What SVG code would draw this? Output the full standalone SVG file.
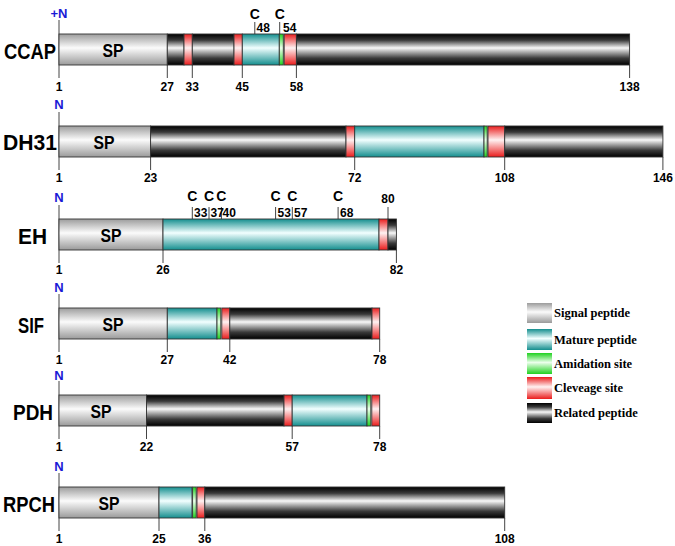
<svg xmlns="http://www.w3.org/2000/svg" width="675" height="546" viewBox="0 0 675 546">
<defs>
<linearGradient id="gSP" x1="0" y1="0" x2="0" y2="1"><stop offset="0" stop-color="#9c9c9c"/><stop offset="0.45" stop-color="#fbfbfb"/><stop offset="1" stop-color="#9a9a9a"/></linearGradient>
<linearGradient id="gDk" x1="0" y1="0" x2="0" y2="1"><stop offset="0" stop-color="#000"/><stop offset="0.2" stop-color="#3a3a3a"/><stop offset="0.45" stop-color="#f8f8f8"/><stop offset="0.78" stop-color="#3a3a3a"/><stop offset="1" stop-color="#000"/></linearGradient>
<linearGradient id="gCy" x1="0" y1="0" x2="0" y2="1"><stop offset="0" stop-color="#138e8e"/><stop offset="0.45" stop-color="#f2ffff"/><stop offset="1" stop-color="#138e8e"/></linearGradient>
<linearGradient id="gGr" x1="0" y1="0" x2="0" y2="1"><stop offset="0" stop-color="#1fd11f"/><stop offset="0.45" stop-color="#ecffec"/><stop offset="1" stop-color="#1fd11f"/></linearGradient>
<linearGradient id="gRd" x1="0" y1="0" x2="0" y2="1"><stop offset="0" stop-color="#ea1c1c"/><stop offset="0.45" stop-color="#fff2f2"/><stop offset="1" stop-color="#ea1c1c"/></linearGradient>
</defs>
<style>
.sp{fill:url(#gSP)} .dk{fill:url(#gDk)} .cy{fill:url(#gCy)} .gr{fill:url(#gGr)} .rd{fill:url(#gRd)}
.seg{stroke:#333;stroke-width:0.9}
.ln{stroke:#444;stroke-width:1;fill:none}
.name{font-family:"Liberation Sans",Arial,sans-serif;font-weight:bold;font-size:22px;fill:#000}
.spt{font-family:"Liberation Sans",Arial,sans-serif;font-weight:bold;font-size:18px;fill:#000;text-anchor:middle}
.num{font-family:"Liberation Sans",Arial,sans-serif;font-weight:bold;font-size:12px;fill:#000;text-anchor:middle}
.numl{font-family:"Liberation Sans",Arial,sans-serif;font-weight:bold;font-size:12px;fill:#000}
.c{font-family:"Liberation Sans",Arial,sans-serif;font-weight:bold;font-size:14px;fill:#000;text-anchor:middle}
.n{font-family:"Liberation Sans",Arial,sans-serif;font-weight:bold;font-size:13px;fill:#1a1ad6;text-anchor:middle}
.leg{font-family:"Liberation Serif","Times New Roman",serif;font-weight:bold;font-size:12.5px;fill:#000}
</style>
<rect width="675" height="546" fill="#fff"/>

<g id="connectors">
<path class="ln" d="M59 20V78 M167.3 65V78 M192.3 65V78 M242.3 65V78 M296.4 65V78 M629.6 65V78 M254.8 22V34 M279.7 22V34"/>
<path class="ln" d="M59 112V170 M150.6 157V170 M354.7 157V170 M504.7 157V170 M662.9 157V170"/>
<path class="ln" d="M59 205V263 M163 250V263 M396.4 250V263 M388 207V219 M192.3 207V219 M209 207V219 M221.4 207V219 M275.6 207V219 M292.3 207V219 M338.1 207V219"/>
<path class="ln" d="M59 294V352 M167.3 339V352 M229.8 339V352 M379.7 339V352"/>
<path class="ln" d="M59 381V439 M146.5 426V439 M292.2 426V439 M379.7 426V439"/>
<path class="ln" d="M59 473V531 M159 518V531 M204.8 518V531 M504.7 518V531"/>
</g>

<g id="CCAP">
<text class="name" x="4" y="59" textLength="52" lengthAdjust="spacingAndGlyphs">CCAP</text>
<text class="n" x="59" y="18">+N</text>
<rect class="sp seg" x="59" y="34" width="108.3" height="31"/>
<rect class="dk seg" x="167.3" y="34" width="16.7" height="31"/>
<rect class="rd seg" x="184" y="34" width="8.3" height="31"/>
<rect class="dk seg" x="192.3" y="34" width="41.7" height="31"/>
<rect class="rd seg" x="234" y="34" width="8.3" height="31"/>
<rect class="cy seg" x="242.3" y="34" width="37" height="31"/>
<rect class="gr seg" x="279.3" y="34" width="4" height="31"/>
<rect class="rd seg" x="284.2" y="34" width="12.2" height="31"/>
<rect class="dk seg" x="296.4" y="34" width="333.2" height="31"/>
<text class="spt" x="113" y="57" textLength="21" lengthAdjust="spacingAndGlyphs">SP</text>
<text class="c" x="254.8" y="19">C</text><text class="numl" x="256.5" y="32">48</text>
<text class="c" x="279.7" y="19">C</text><text class="numl" x="283" y="32">54</text>
<text class="num" x="59" y="90.5">1</text><text class="num" x="167.3" y="90.5">27</text><text class="num" x="192.3" y="90.5">33</text><text class="num" x="242.3" y="90.5">45</text><text class="num" x="296.4" y="90.5">58</text><text class="num" x="629.6" y="90.5">138</text>
</g>

<g id="DH31">
<text class="name" x="3" y="150" textLength="54" lengthAdjust="spacingAndGlyphs">DH31</text>
<text class="n" x="59" y="109">N</text>
<rect class="sp seg" x="59" y="126" width="91.6" height="31"/>
<rect class="dk seg" x="150.6" y="126" width="195.4" height="31"/>
<rect class="rd seg" x="346" y="126" width="8.7" height="31"/>
<rect class="cy seg" x="354.7" y="126" width="129.3" height="31"/>
<rect class="gr seg" x="484" y="126" width="3.2" height="31"/>
<rect class="rd seg" x="488" y="126" width="16.7" height="31"/>
<rect class="dk seg" x="504.7" y="126" width="158.2" height="31"/>
<text class="spt" x="104" y="149" textLength="21" lengthAdjust="spacingAndGlyphs">SP</text>
<text class="num" x="59" y="181.5">1</text><text class="num" x="150.6" y="181.5">23</text><text class="num" x="354.7" y="181.5">72</text><text class="num" x="504.7" y="181.5">108</text><text class="num" x="662.9" y="181.5">146</text>
</g>

<g id="EH">
<text class="name" x="18" y="244" textLength="29" lengthAdjust="spacingAndGlyphs">EH</text>
<text class="n" x="59" y="202">N</text>
<rect class="sp seg" x="59" y="219" width="104" height="31"/>
<rect class="cy seg" x="163" y="219" width="216" height="31"/>
<rect class="rd seg" x="379" y="219" width="9" height="31"/>
<rect class="dk seg" x="388" y="219" width="8.4" height="31"/>
<text class="spt" x="111" y="242" textLength="21" lengthAdjust="spacingAndGlyphs">SP</text>
<text class="c" x="192.3" y="201">C</text><text class="numl" x="194" y="217">33</text>
<text class="c" x="209" y="201">C</text><text class="numl" x="210.5" y="217">37</text>
<text class="c" x="221.4" y="201">C</text><text class="numl" x="222.5" y="217">40</text>
<text class="c" x="275.6" y="201">C</text><text class="numl" x="277.5" y="217">53</text>
<text class="c" x="292.3" y="201">C</text><text class="numl" x="294" y="217">57</text>
<text class="c" x="338.1" y="201">C</text><text class="numl" x="340" y="217">68</text>
<text class="num" x="388" y="203">80</text>
<text class="num" x="59" y="274">1</text><text class="num" x="163" y="274">26</text><text class="num" x="396.4" y="274">82</text>
</g>

<g id="SIF">
<text class="name" x="18" y="333" textLength="26" lengthAdjust="spacingAndGlyphs">SIF</text>
<text class="n" x="59" y="292">N</text>
<rect class="sp seg" x="59" y="308" width="108.3" height="31"/>
<rect class="cy seg" x="167.3" y="308" width="49.7" height="31"/>
<rect class="gr seg" x="217" y="308" width="3.8" height="31"/>
<rect class="rd seg" x="221.8" y="308" width="8" height="31"/>
<rect class="dk seg" x="229.8" y="308" width="142.2" height="31"/>
<rect class="rd seg" x="372" y="308" width="7.7" height="31"/>
<text class="spt" x="113" y="331" textLength="21" lengthAdjust="spacingAndGlyphs">SP</text>
<text class="num" x="59" y="363.5">1</text><text class="num" x="167.3" y="363.5">27</text><text class="num" x="229.8" y="363.5">42</text><text class="num" x="379.7" y="363.5">78</text>
</g>

<g id="PDH">
<text class="name" x="13" y="420" textLength="40" lengthAdjust="spacingAndGlyphs">PDH</text>
<text class="n" x="59" y="380">N</text>
<rect class="sp seg" x="59" y="395" width="87.5" height="31"/>
<rect class="dk seg" x="146.5" y="395" width="137.5" height="31"/>
<rect class="rd seg" x="284" y="395" width="8.2" height="31"/>
<rect class="cy seg" x="292.2" y="395" width="74.8" height="31"/>
<rect class="gr seg" x="367" y="395" width="3.8" height="31"/>
<rect class="rd seg" x="371.8" y="395" width="7.9" height="31"/>
<text class="spt" x="101" y="418" textLength="21" lengthAdjust="spacingAndGlyphs">SP</text>
<text class="num" x="59" y="451">1</text><text class="num" x="146.5" y="451">22</text><text class="num" x="292.2" y="451">57</text><text class="num" x="379.7" y="451">78</text>
</g>

<g id="RPCH">
<text class="name" x="3" y="512" textLength="52" lengthAdjust="spacingAndGlyphs">RPCH</text>
<text class="n" x="59" y="471">N</text>
<rect class="sp seg" x="59" y="487" width="100" height="31"/>
<rect class="cy seg" x="159" y="487" width="33" height="31"/>
<rect class="gr seg" x="192.6" y="487" width="3.6" height="31"/>
<rect class="rd seg" x="197" y="487" width="7.8" height="31"/>
<rect class="dk seg" x="204.8" y="487" width="299.9" height="31"/>
<text class="spt" x="109" y="510" textLength="21" lengthAdjust="spacingAndGlyphs">SP</text>
<text class="num" x="59" y="543">1</text><text class="num" x="159" y="543">25</text><text class="num" x="204.8" y="543">36</text><text class="num" x="504.7" y="543">108</text>
</g>

<g id="legend">
<rect class="sp" x="527" y="303" width="25" height="20"/>
<text class="leg" x="554" y="317">Signal peptide</text>
<rect class="cy" x="527" y="329" width="25" height="21"/>
<text class="leg" x="554" y="343.5">Mature peptide</text>
<rect class="gr" x="527" y="353" width="25" height="21"/>
<text class="leg" x="554" y="367.5">Amidation site</text>
<rect class="rd" x="527" y="377" width="25" height="22"/>
<text class="leg" x="554" y="392">Cleveage site</text>
<rect class="dk" x="527" y="403" width="25" height="20"/>
<text class="leg" x="554" y="417">Related peptide</text>
</g>
</svg>
